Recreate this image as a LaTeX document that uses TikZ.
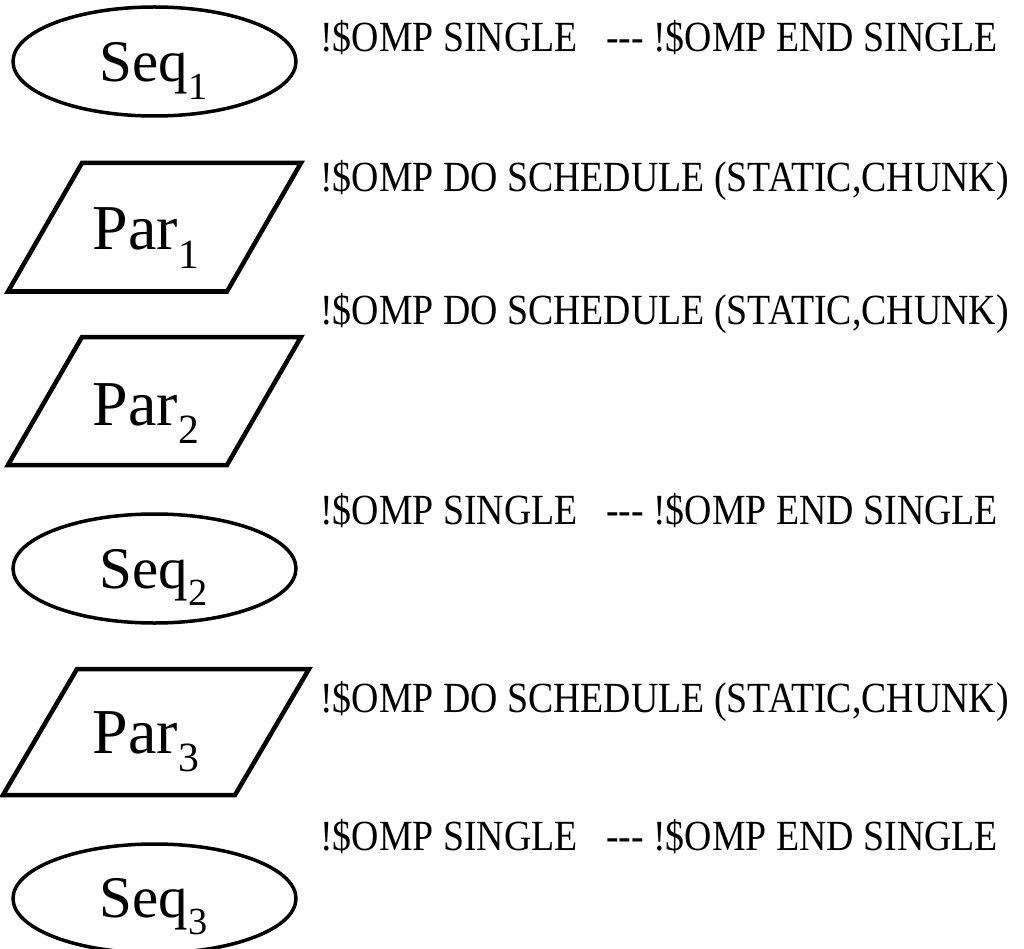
\documentclass[tikz,border=0pt]{standalone}
\usepackage{fontspec}
\setmainfont{Liberation Serif}
% narrower face for the directive lines
\newfontfamily\pragmafont[FakeStretch=0.88]{Liberation Serif}
\usetikzlibrary{shapes.geometric}
% lowered, reduced index digit after a block name
\newcommand{\blockidx}[1]{\raisebox{-0.29em}{\scalebox{0.65}{#1}}}
% three plain hyphens, kept apart from the TeX dash ligatures
\newcommand{\threehyph}{-{}-{}-}
\begin{document}
\begin{tikzpicture}[x=1pt,y=-1pt,
  seqbox/.style={ellipse,draw,line width=3.5pt,minimum width=283pt,minimum height=109pt,inner sep=0pt},
  seqlabel/.style={anchor=base,inner sep=0pt,font=\fontsize{59}{62}\selectfont},
  parbox/.style={draw,line width=4.5pt,line join=miter},
  parlabel/.style={anchor=base,inner sep=0pt,font=\fontsize{64}{68}\selectfont},
  pragma/.style={anchor=base west,inner sep=0pt,font=\pragmafont\fontsize{43}{45}\selectfont}]
\useasboundingbox (0,0) rectangle (1024,949);

% sequential blocks
\node[seqbox] (seq1) at (154.5,61.5) {};
\node[seqlabel] (seq1t) at (153.5,82) {Seq\blockidx{1}};
\node[seqbox] (seq2) at (154.5,568.5) {};
\node[seqlabel] (seq2t) at (153.5,588) {Seq\blockidx{2}};
\node[seqbox] (seq3) at (154.5,898.5) {};
\node[seqlabel] (seq3t) at (153.5,917) {Seq\blockidx{3}};

% parallel blocks
\draw[parbox] (8,291.5) -- (82,163) -- (301,163) -- (227,291.5) -- cycle;
\node[parlabel] (par1t) at (146,250) {Par\blockidx{1}};
\draw[parbox] (8,465) -- (82,337) -- (301,337) -- (227,465) -- cycle;
\node[parlabel] (par2t) at (146,425) {Par\blockidx{2}};
\draw[parbox] (3,795) -- (77,669) -- (309,669) -- (235,795) -- cycle;
\node[parlabel] (par3t) at (146,753) {Par\blockidx{3}};

% OpenMP directives
\node[pragma] (d1) at (320,52) {!\$OMP SINGLE \ \ \threehyph{} !\$OMP END SINGLE};
\node[pragma] (d2) at (320,192) {!\$OMP DO SCHEDULE (STATIC,CHUNK)};
\node[pragma] (d3) at (320,324) {!\$OMP DO SCHEDULE (STATIC,CHUNK)};
\node[pragma] (d4) at (320,524) {!\$OMP SINGLE \ \ \threehyph{} !\$OMP END SINGLE};
\node[pragma] (d5) at (320,712) {!\$OMP DO SCHEDULE (STATIC,CHUNK)};
\node[pragma] (d6) at (320,850) {!\$OMP SINGLE \ \ \threehyph{} !\$OMP END SINGLE};
\end{tikzpicture}
\end{document}
